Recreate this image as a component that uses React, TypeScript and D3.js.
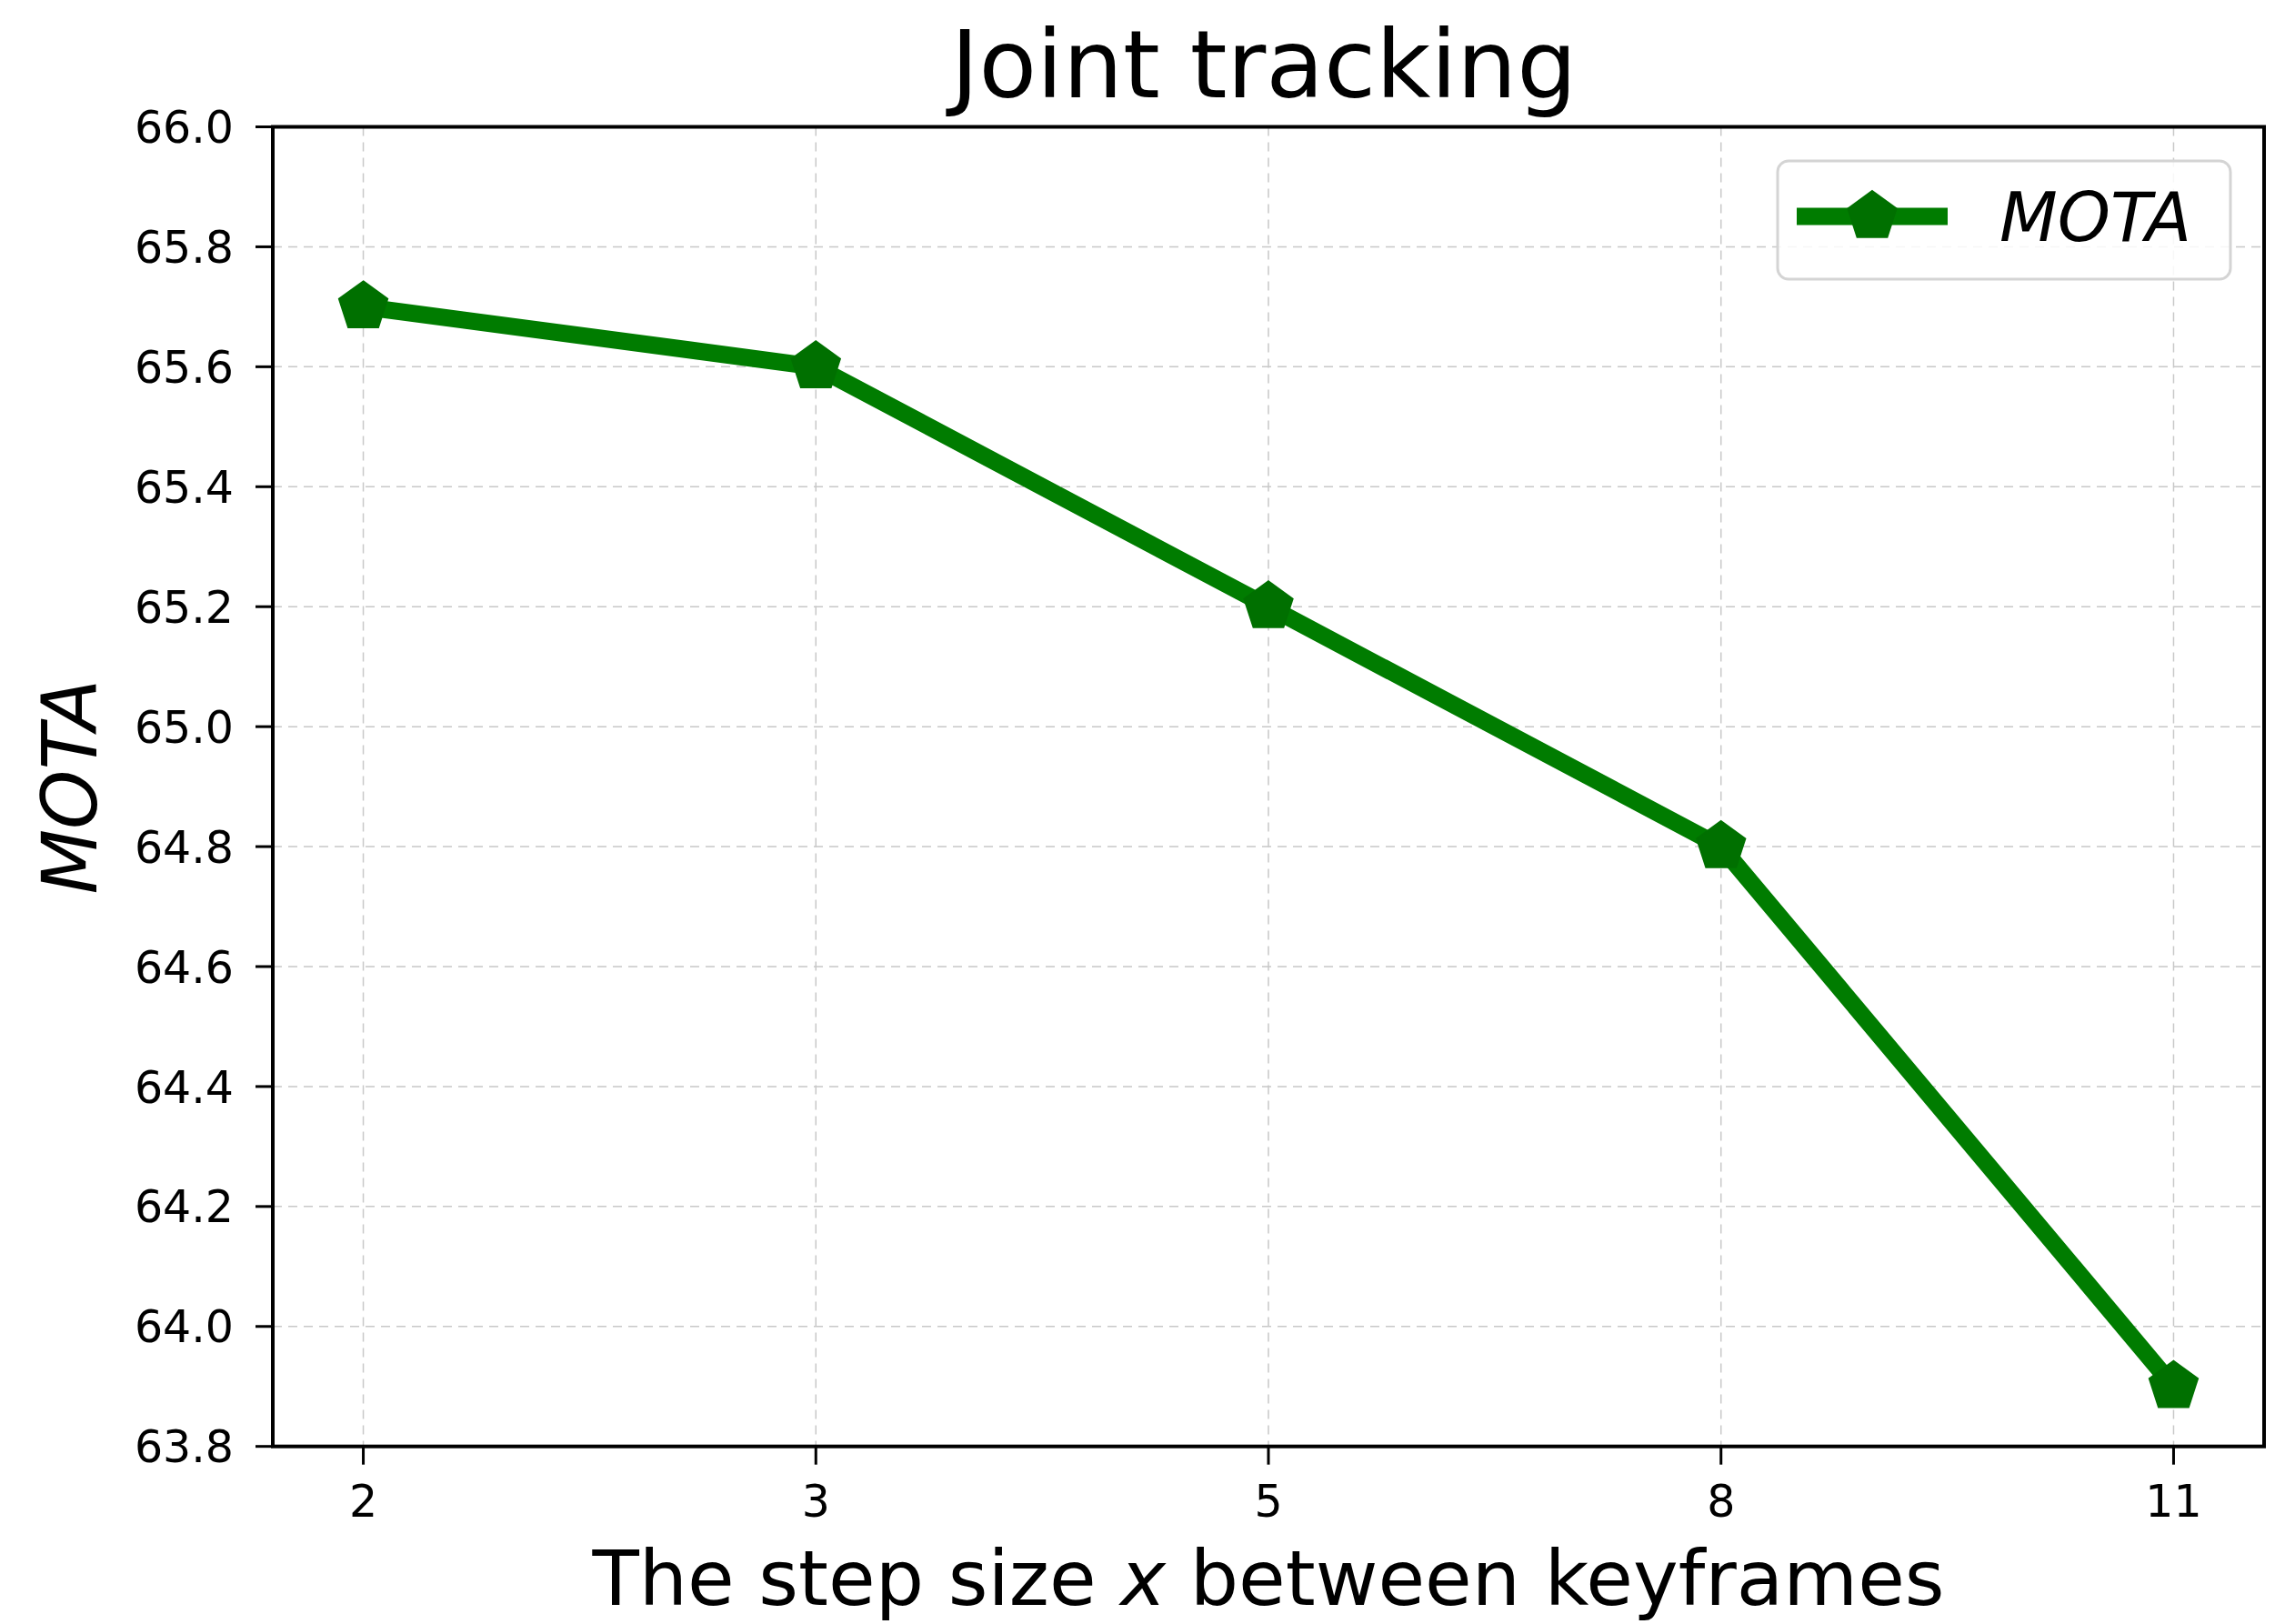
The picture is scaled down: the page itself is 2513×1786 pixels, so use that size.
import React from "react";
import * as d3 from "d3";

const categories = ["2", "3", "5", "8", "11"];
const motaValues = [65.7, 65.6, 65.2, 64.8, 63.9];
const yTicks = [63.8, 64.0, 64.2, 64.4, 64.6, 64.8, 65.0, 65.2, 65.4, 65.6, 65.8, 66.0];
const seriesName = "MOTA";
const titleText = "Joint tracking";

const W = 2513;
const H = 1786;
const L = 300, R = 2490, T = 139.5, B = 1590.7;
const GREEN = "#007c00";
const MARK = "#007000";
const FONT = "'DejaVu Sans', sans-serif";

function pentagon(cx: number, cy: number, r: number) {
  const pts: string[] = [];
  for (let i = 0; i < 5; i++) {
    const a = -Math.PI / 2 + (i * 2 * Math.PI) / 5;
    pts.push(`${cx + r * Math.cos(a)},${cy + r * Math.sin(a)}`);
  }
  return pts.join(" ");
}

export default function App() {
  const x = d3.scaleLinear().domain([-0.2, categories.length - 1 + 0.2]).range([L, R]);
  const y = d3.scaleLinear().domain([63.8, 66.0]).range([B, T]);
  const line = d3
    .line<number>()
    .x((_, i) => x(i))
    .y((d) => y(d));

  return (
    <div style={{ position: "absolute", left: 0, top: 0 }}>
      <svg width={W} height={H} style={{ display: "block", background: "#fff" }}>
        {/* grid */}
        {yTicks.map((t) => (
          <line key={"gy" + t} x1={L} x2={R} y1={y(t)} y2={y(t)} stroke="#c8c8c8" strokeWidth={1.5} strokeDasharray="10,7" />
        ))}
        {categories.map((c, i) => (
          <line key={"gx" + c} x1={x(i)} x2={x(i)} y1={T} y2={B} stroke="#c8c8c8" strokeWidth={1.5} strokeDasharray="10,7" />
        ))}
        {/* series */}
        <path d={line(motaValues) || ""} fill="none" stroke={GREEN} strokeWidth={19} strokeLinejoin="round" />
        {motaValues.map((v, i) => (
          <polygon key={"m" + i} points={pentagon(x(i), y(v), 28)} fill={MARK} stroke={MARK} strokeWidth={2} />
        ))}
        {/* spines */}
        <rect x={L} y={T} width={R - L} height={B - T} fill="none" stroke="#000" strokeWidth={4} />
        {/* y ticks */}
        {yTicks.map((t) => (
          <g key={"ty" + t}>
            <line x1={L - 19} x2={L} y1={y(t)} y2={y(t)} stroke="#000" strokeWidth={3} />
            <text x={L - 43} y={y(t)} dy="0.36em" textAnchor="end" fontFamily={FONT} fontSize={49} fill="#000">
              {t.toFixed(1)}
            </text>
          </g>
        ))}
        {/* x ticks */}
        {categories.map((c, i) => (
          <g key={"tx" + c}>
            <line x1={x(i)} x2={x(i)} y1={B} y2={B + 20} stroke="#000" strokeWidth={3} />
            <text x={x(i)} y={1668} textAnchor="middle" fontFamily={FONT} fontSize={49} fill="#000">
              {c}
            </text>
          </g>
        ))}
        {/* title */}
        <text x={(L + R) / 2 - 5} y={107} textAnchor="middle" fontFamily={FONT} fontSize={104} fill="#000">
          {titleText}
        </text>
        {/* x label */}
        <text x={(L + R) / 2} y={1765} textAnchor="middle" fontFamily={FONT} fontSize={84} fill="#000">
          The step size <tspan fontStyle="italic">x</tspan> between keyframes
        </text>
        {/* y label */}
        <text
          transform={`translate(${106},${(T + B) / 2}) rotate(-90)`}
          textAnchor="middle"
          fontFamily={FONT}
          fontStyle="italic"
          fontSize={83}
          fill="#000"
        >
          {seriesName}
        </text>
        {/* legend */}
        <rect x={1955} y={177} width={498} height={130} rx={12} ry={12} fill="#fff" fillOpacity={0.85} stroke="#d4d4d4" strokeWidth={3} />
        <line x1={1976} x2={2142} y1={238} y2={238} stroke={GREEN} strokeWidth={19} />
        <polygon points={pentagon(2059, 238, 28)} fill={MARK} stroke={MARK} strokeWidth={2} />
        <text x={2199} y={238} dy="0.36em" fontFamily={FONT} fontStyle="italic" fontSize={74} fill="#000">
          {seriesName}
        </text>
      </svg>
    </div>
  );
}
